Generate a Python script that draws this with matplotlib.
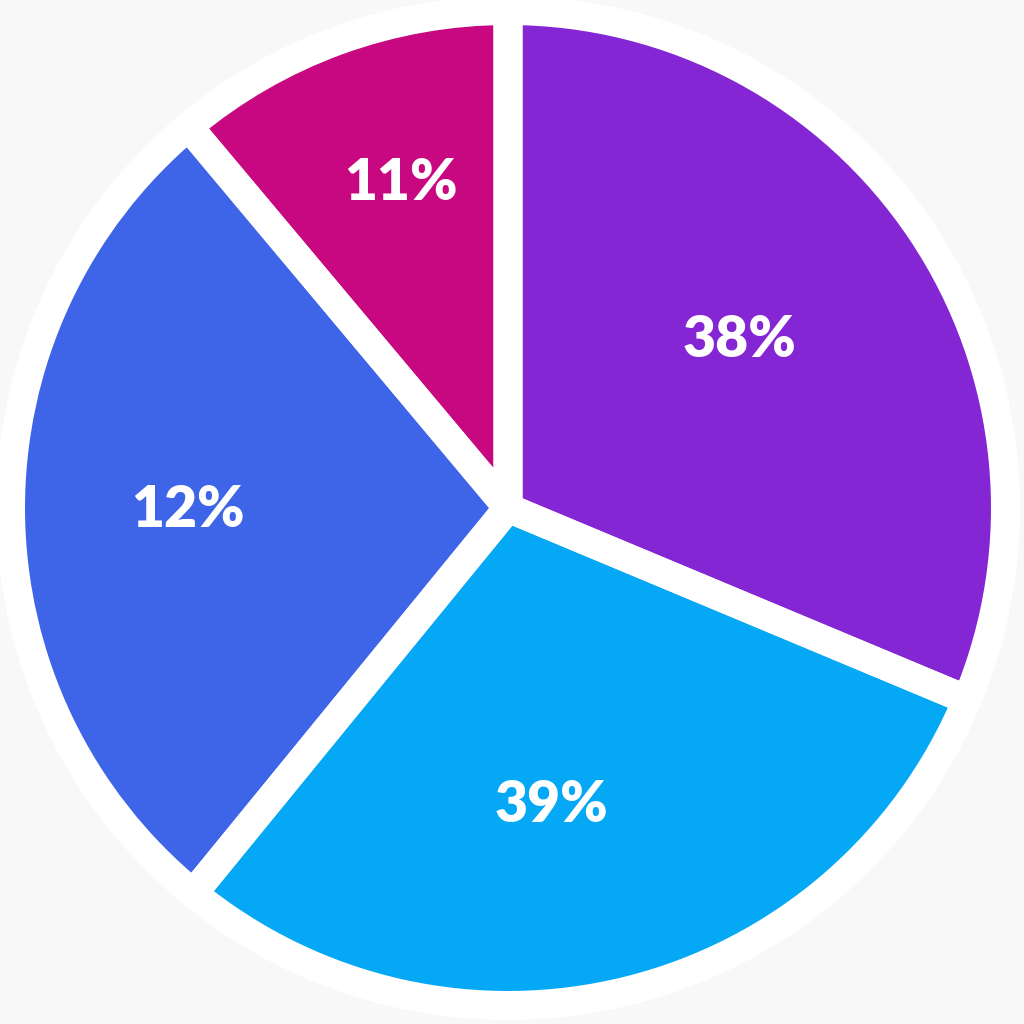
import matplotlib

matplotlib.use('Agg')

import numpy as np
import matplotlib.pyplot as plt
from matplotlib.patches import Circle

# slice sizes, labels as printed on it
sizes = [31.3, 29.6, 28.0, 11.1]
labels = ['38%', '39%', '12%', '11%']
colors = ['#8426D4', '#04A8F5', '#3E64E8', '#C80880']

fig = plt.figure(figsize=(10.24, 10.24), dpi=100)
fig.patch.set_facecolor('#F8F8F8')
ax = fig.add_axes([0, 0, 1, 1])

cx, cy = 508, 516
ax.add_patch(Circle((cx, cy), 510, facecolor='white', edgecolor='#EFEFEF',
                    linewidth=1.5, zorder=0))

radius = 497.5
wedges, _ = ax.pie(sizes, colors=colors, startangle=90, counterclock=False,
                   radius=radius, center=(cx, cy), frame=True,
                   wedgeprops=dict(linewidth=0))
# white gaps drawn on top of all fills
ax.pie(sizes, startangle=90, counterclock=False, radius=radius,
       center=(cx, cy), frame=True,
       wedgeprops=dict(fill=False, edgecolor='white', linewidth=20.9,
                       joinstyle='round', zorder=3))
ax.set_xlim(0, 1024)
ax.set_ylim(0, 1024)
ax.set_aspect('equal')
ax.axis('off')

# label placement: fraction of radius and angle shift from slice middle
label_r = [0.575, 0.603, 0.643, 0.687]
label_shift = [2.3, -5.7, 0.0, -1.8]
for w, lab, lr, sh in zip(wedges, labels, label_r, label_shift):
    ang = np.deg2rad((w.theta1 + w.theta2) / 2 + sh)
    ax.text(cx + lr * radius * np.cos(ang), cy + lr * radius * np.sin(ang),
            lab, ha='center', va='center', color='white', fontsize=41,
            fontweight='heavy', family='Lato', zorder=4)

fig.savefig('out.png', dpi=100)
